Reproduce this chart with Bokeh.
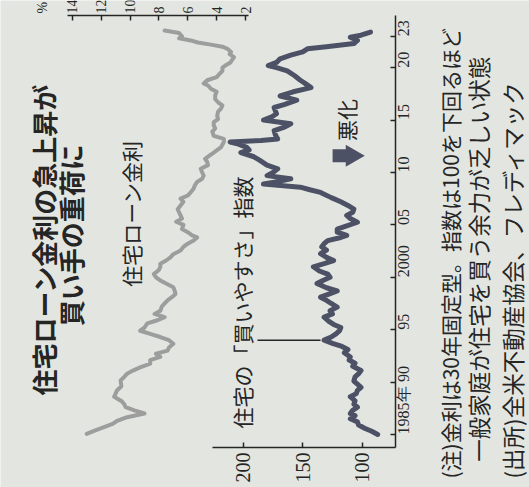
import math
from bokeh.plotting import figure
from bokeh.models import Range1d, LinearAxis, FixedTicker, Label
from bokeh.embed import file_html
from bokeh.resources import INLINE

# ---- data ----
index_years = [1985.0, 1985.3, 1985.6, 1985.9, 1986.2, 1986.5, 1986.8, 1987.0, 1987.3, 1987.6,
               1987.9, 1988.2, 1988.6, 1988.9, 1989.2, 1989.5, 1989.8, 1990.1, 1990.5, 1990.8,
               1991.1, 1991.5, 1991.8, 1992.1, 1992.4, 1992.8, 1993.1, 1993.4, 1993.7, 1994.0,
               1994.3, 1994.6, 1994.9, 1995.2, 1995.5, 1995.8, 1996.2, 1996.5, 1996.8, 1997.15,
               1997.5, 1997.8, 1998.1, 1998.4, 1998.7, 1999.0, 1999.4, 1999.7, 2000.0, 2000.3,
               2000.6, 2001.0, 2001.3, 2001.6, 2001.9, 2002.25, 2002.6, 2002.9, 2003.2, 2003.5,
               2003.8, 2004.0, 2004.3, 2004.6, 2004.9, 2005.25, 2005.6, 2005.9, 2006.2, 2006.5,
               2006.85, 2007.2, 2007.6, 2008.1, 2008.35, 2008.6, 2008.9, 2009.15, 2009.4, 2009.7,
               2010.0, 2010.35, 2010.7, 2011.15, 2011.5, 2011.9, 2012.15, 2012.4, 2012.7, 2012.9,
               2013.05, 2013.2, 2013.6, 2014.0, 2014.3, 2014.65, 2015.0, 2015.3, 2015.6, 2016.2,
               2016.5, 2016.9, 2017.3, 2017.7, 2018.1, 2018.5, 2018.8, 2019.25, 2019.7, 2020.0,
               2020.2, 2020.5, 2020.85, 2021.2, 2021.5, 2021.8, 2022.0, 2022.3, 2022.6, 2022.9,
               2023.1, 2023.4]
index_values = [87, 92, 98, 103, 104, 110, 106, 110, 108, 104,
                107, 106, 110, 105, 104, 101, 104, 107, 106, 103,
                101, 108, 106, 111, 110, 115, 112, 117, 125, 132,
                126, 122, 119, 118, 124, 128, 132, 125, 127, 121,
                126, 130, 135, 128, 121, 130, 138, 133, 127, 129,
                136, 141, 132, 124, 130, 135, 130, 134, 132, 129,
                118, 113, 121, 121, 113, 104, 110, 113, 108, 107,
                112, 118, 126, 135, 144, 152, 183, 170, 160, 180,
                175, 171, 180, 186, 191, 202, 195, 197, 204, 211,
                185, 171, 173, 174, 166, 160, 183, 176, 172, 174,
                165, 155, 169, 158, 143, 148, 152, 157, 163, 172,
                179, 172, 169, 160, 150, 146, 130, 107, 104, 110,
                101, 93]

rate_years = [1985.06, 1985.4, 1985.7, 1986.0, 1986.3, 1986.65, 1987.0, 1987.3, 1987.6, 1987.9,
              1988.2, 1988.6, 1988.9, 1989.2, 1989.6, 1990.15, 1990.5, 1990.8, 1991.1, 1991.4,
              1991.75, 1992.1, 1992.4, 1992.7, 1993.0, 1993.3, 1993.65, 1994.0, 1994.3, 1994.6,
              1994.9, 1995.2, 1995.6, 1995.9, 1996.2, 1996.5, 1996.8, 1997.2, 1997.5, 1997.8,
              1998.1, 1998.4, 1998.7, 1999.05, 1999.4, 1999.7, 2000.0, 2000.3, 2000.7, 2001.0,
              2001.3, 2001.6, 2001.9, 2002.2, 2002.55, 2002.9, 2003.2, 2003.5, 2003.8, 2004.0,
              2004.3, 2004.6, 2005.0, 2005.3, 2005.6, 2005.9, 2006.2, 2006.5, 2006.85, 2007.2,
              2007.5, 2007.8, 2008.1, 2008.45, 2008.8, 2009.1, 2009.4, 2009.7, 2010.0, 2010.35,
              2010.7, 2011.0, 2011.3, 2011.6, 2011.9, 2012.2, 2012.4, 2012.9, 2013.2, 2013.5,
              2013.9, 2014.2, 2014.5, 2014.8, 2015.1, 2015.4, 2015.8, 2016.1, 2016.4, 2016.7,
              2017.0, 2017.35, 2017.7, 2018.0, 2018.3, 2018.5, 2018.8, 2019.1, 2019.4, 2019.7,
              2020.0, 2020.2, 2020.5, 2020.8, 2021.0, 2021.3, 2021.5, 2021.8, 2022.0, 2022.2,
              2022.4, 2022.6, 2022.8, 2023.0, 2023.3, 2023.55]
rate_values = [13.0, 12.4, 11.8, 11.2, 10.9, 10.2, 9.0, 9.7, 10.3, 10.4,
               10.6, 11.1, 11.0, 10.9, 10.6, 10.65, 10.4, 10.2, 9.8, 9.3,
               8.6, 8.6, 7.9, 8.2, 7.4, 7.3, 7.0, 7.3, 7.9, 8.6,
               9.3, 9.0, 8.8, 8.1, 7.6, 8.3, 7.9, 7.8, 7.6, 7.4,
               7.1, 6.85, 6.9, 7.0, 7.5, 7.9, 8.2, 8.35, 8.0, 7.9,
               7.9, 7.5, 7.2, 7.0, 6.5, 6.3, 6.0, 5.6, 5.35, 5.7,
               6.0, 6.4, 6.3, 6.8, 6.4, 6.5, 6.6, 6.7, 6.5, 6.3,
               6.5, 6.0, 5.8, 5.6, 5.5, 5.35, 5.0, 4.9, 5.0, 5.1,
               4.6, 4.65, 4.8, 4.5, 4.2, 3.9, 3.7, 3.5, 3.5, 4.2,
               4.3, 4.1, 4.2, 4.2, 3.9, 3.96, 3.9, 3.7, 3.6, 3.9,
               4.1, 4.1, 4.0, 4.4, 4.6, 4.9, 4.65, 4.0, 3.8, 3.6,
               3.6, 3.4, 3.04, 2.9, 2.8, 3.1, 3.0, 3.25, 3.6, 4.4,
               5.3, 5.8, 6.6, 6.4, 6.6, 7.6]

year_ticks = [1985, 1990, 1995, 2000, 2005, 2010, 2015, 2020, 2023]
year_tick_labels = ["1985年", "90", "95", "2000", "05", "10", "15", "20", "23"]
index_ticks = [100, 150, 200]
rate_ticks = [2, 4, 6, 8, 10, 12, 14]

title_lines = ["住宅ローン金利の急上昇が", "買い手の重荷に"]
rate_name = "住宅ローン金利"
index_name = "住宅の「買いやすさ」指数"
worse_text = "悪化"
note_lines = ["(注)金利は30年固定型。指数は100を下回るほど",
              "一般家庭が住宅を買う余力が乏しい状態",
              "(出所)全米不動産協会、フレディマック"]

# ---- styling ----
BG = "#e3e6e0"
TXT = "#252525"
DARK = "#4d5165"
LIGHT = "#9d9d9d"
JP = "Noto Sans CJK JP"
NUM = "Liberation Sans Narrow"

# whole canvas is the plotting frame; axes sit at fixed locations inside it
p = figure(width=529, height=487, output_backend="svg", toolbar_location=None,
           x_range=Range1d(403.95, -40.59), y_range=Range1d(1979.94, 2026.41),
           x_axis_location=None, y_axis_location=None,
           min_border=0, min_border_left=0, min_border_right=0,
           min_border_top=0, min_border_bottom=0,
           background_fill_color=BG, border_fill_color=BG, outline_line_color=None)
p.grid.visible = False
p.extra_x_ranges = {"rate": Range1d(18.97, -17.67)}

# series
p.line(x=rate_values, y=rate_years, x_range_name="rate", line_color=LIGHT,
       line_width=4, line_join="round", line_cap="round")
p.line(x=index_values, y=index_years, line_color=DARK,
       line_width=5, line_join="round", line_cap="round")

def style_axis(ax, size):
    ax.major_tick_in = 5
    ax.major_tick_out = 0
    ax.minor_tick_in = 0
    ax.minor_tick_out = 0
    ax.axis_line_width = 1.5
    ax.axis_line_color = TXT
    ax.major_tick_line_color = TXT
    ax.major_tick_line_width = 1.5
    ax.major_label_orientation = math.pi / 2
    ax.major_label_text_font = NUM
    ax.major_label_text_font_size = size
    ax.major_label_text_color = TXT

ax_idx = LinearAxis(ticker=FixedTicker(ticks=index_ticks), bounds=(72.0, 225.8),
                    fixed_location=1983.76, major_label_standoff=5)
style_axis(ax_idx, "20px")
p.add_layout(ax_idx, "below")

ax_rate = LinearAxis(ticker=FixedTicker(ticks=rate_ticks), bounds=(1.8, 14.35),
                     x_range_name="rate", fixed_location=2024.98, major_label_standoff=2)
style_axis(ax_rate, "14px")
p.add_layout(ax_rate, "above")

ax_year = LinearAxis(ticker=FixedTicker(ticks=year_ticks), fixed_location=72.0,
                     bounds=(1983.76, 2024.98), major_label_standoff=8,
                     major_label_overrides={t: s for t, s in zip(year_ticks, year_tick_labels)})
style_axis(ax_year, "16px")
p.add_layout(ax_year, "right")

def lab(text, x, y, size, bold=False, align="center", xr="default", yoff=0, font=JP):
    return Label(x=x, y=y, text=text, angle=90, angle_units="deg", text_align=align,
                 text_baseline="middle", text_font=font, text_font_size=size,
                 text_font_style="bold" if bold else "normal", text_color=TXT,
                 x_range_name=xr, y_offset=yoff)

# % unit label on the rate axis
p.add_layout(lab("%", 16.06, 2024.98, "14px", align="left", xr="rate", yoff=2, font=NUM))

# title
p.add_layout(lab(title_lines[0], 367.9, 2003.6, "26px", bold=True))
p.add_layout(lab(title_lines[1], 345.1, 2004.0, "26px", bold=True))

# series names and leader
p.add_layout(lab(rate_name, 9.9, 2006.1, "21px", xr="rate"))
p.add_layout(lab(index_name, 200.6, 1997.6, "21px"))
leader_x = [188, 135]
leader_y = [1994.0, 1994.0]
p.line(x=leader_x, y=leader_y, line_color=TXT, line_width=1.5)

# worsening arrow (points down in the unrotated chart)
arrow_shaft_x, arrow_shaft_y = [119.0], [2011.6]
arrow_head_x, arrow_head_y = [108.5], [2011.6]
p.rect(x=arrow_shaft_x, y=arrow_shaft_y, width=14, height=13,
       width_units="screen", height_units="screen", fill_color=DARK, line_color=None)
p.scatter(x=arrow_head_x, y=arrow_head_y, marker="triangle", size=22,
          angle=-math.pi / 2, fill_color=DARK, line_color=None)
p.add_layout(lab(worse_text, 114.0, 2015.0, "21px"))

# notes
p.add_layout(lab(note_lines[0], 26.6, 1980.8, "21px", align="left"))
p.add_layout(lab(note_lines[1], 3.1, 1982.4, "22.5px", align="left"))
p.add_layout(lab(note_lines[2], -25.5, 1980.8, "22.5px", align="left"))

open("out.html", "w").write(file_html(p, INLINE))
